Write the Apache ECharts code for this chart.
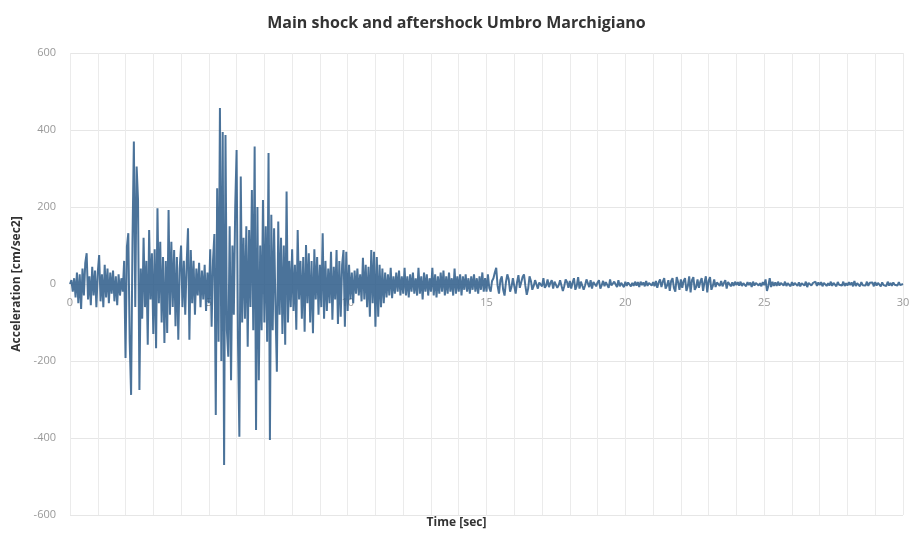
<!DOCTYPE html>
<html>
<head>
<meta charset="utf-8">
<script src="https://cdn.jsdelivr.net/npm/echarts@6/dist/echarts.min.js"></script>
<style>html,body{margin:0;padding:0;background:#fff}#c{width:913px;height:537px}</style>
</head>
<body>
<div id="c"></div>
<script>
// Record 1: 0 – 15 s, sampled every 0.05 s (cm/sec2)
var startA = 0, stepA = 0.05;
var accelA = [
0,10,-20,15,-35,30,-50,25,-65,40,-30,55,80,-40,20,-55,45,-30,35,-60,
30,75,-45,25,-60,50,-35,40,-50,30,-25,35,-45,20,-55,25,-30,15,-20,60,
-192,97,132,-150,-288,110,370,-60,305,218,-275,40,-90,120,-60,60,-158,140,-40,80,
-130,90,-167,197,-50,110,-100,70,-153,60,-127,192,-80,110,-60,88,-110,70,-145,40,
100,-60,60,-80,50,145,-145,88,-50,60,-80,40,-30,55,-60,35,-40,50,-70,30,
-50,90,-111,60,130,-340,249,-150,457,-200,395,-470,387,-120,-189,150,-250,100,-80,200,
348,-150,-397,279,-100,120,-90,150,-163,140,-60,244,-120,357,-379,200,-250,100,-120,218,
-100,150,-150,340,-405,180,-120,145,-60,-228,162,-80,120,-130,100,-158,240,-100,60,-60,
90,-70,50,-119,140,-40,60,-90,70,-124,101,-50,80,-100,60,-128,90,-40,70,-80,
50,-60,132,-90,60,-70,40,-50,84,-93,45,-40,88,-104,60,-85,50,88,-111,84,
-70,50,-40,30,-50,35,-25,40,-30,25,-45,68,-40,50,-60,45,-85,88,-50,84,
-111,70,-85,50,-60,40,-50,30,-35,25,-30,42,-37,20,-25,30,-20,35,-30,20,
-25,42,-30,20,-35,25,-20,30,-25,15,-30,42,-25,20,-40,30,-20,25,-30,15,
-20,42,-30,25,-35,20,-25,30,-20,35,-30,20,-25,30,-20,15,-30,40,-25,20,
-20,25,-30,20,-15,25,-20,15,-25,20,-15,25,-20,15,-25,20,-15,30,-20,15,
-20
];
// Record 2: 15.05 – 30 s, sampled every 0.05 s (cm/sec2)
var startB = 15.05, stepB = 0.05;
var accelB = [
25,-10,-20,8,15,30,42,-5,-25,10,20,-15,-30,5,25,12,-20,-8,15,20,
-25,5,23,-10,-15,18,25,-5,-28,-12,20,8,-15,-5,10,12,-12,4,8,-6,
15,-10,-4,12,-8,3,10,-12,6,8,-10,-3,10,15,-18,-6,12,5,-10,8,
-12,4,15,-15,-5,18,-12,6,10,-15,-4,12,8,-8,10,-12,5,8,-6,4,
10,-12,-3,8,-6,5,8,-10,12,-4,-8,6,5,-8,10,-6,3,5,-8,6,
-5,4,8,-6,3,-5,6,-4,5,-8,6,-3,4,-6,8,-5,3,6,-4,5,
-6,8,-10,4,12,-8,6,15,-12,-4,10,-18,8,15,-10,-20,18,5,-15,12,
-10,8,15,-18,-6,20,-22,10,18,-15,-8,12,-10,6,15,-18,4,20,-22,8,
18,-15,-5,12,-8,4,6,-5,8,-6,3,10,-12,5,8,-6,4,-5,6,-3,
5,-4,6,-5,2,4,-6,5,-3,4,-8,6,-4,3,5,-4,2,-6,5,-3,
12,-18,-5,15,-8,6,-5,4,-5,6,-4,3,5,-4,6,-5,2,4,-6,5,
-4,3,6,-5,4,-6,2,5,-4,6,-8,3,5,-4,2,-3,6,-5,4,-3,
5,-6,3,4,-5,2,-4,6,-5,3,4,-6,5,-2,3,-4,6,-5,2,-4,
5,-3,4,-6,8,-5,2,4,-6,5,-3,2,-4,6,-5,3,-2,4,-6,5,
-4,3,5,-6,4,-3,2,-5,6,-4,3,-5,4,-2,3,-4,5,-3,2,0
];
var xTicks = [0,5,10,15,20,25,30];
var yTicks = [-600,-400,-200,0,200,400,600];

var pts = [];
accelA.forEach(function(v,i){ pts.push([+(startA + i*stepA).toFixed(2), v]); });
accelB.forEach(function(v,i){ pts.push([+(startB + i*stepB).toFixed(2), v]); });

var gridTop = 53, gridBottom = 22, H = 537;
var plotH = H - gridTop - gridBottom;
// shift the x axis (and its labels) up to the zero line of the y axis
var zeroOffset = -plotH * (0 - yTicks[0]) / (yTicks[yTicks.length-1] - yTicks[0]);

var chart = echarts.init(document.getElementById('c'), null, {renderer:'canvas'});
chart.setOption({
  animation:false,
  backgroundColor:'#fff',
  title:{text:'Main shock and aftershock Umbro Marchigiano',left:'center',top:10,
    textStyle:{fontFamily:'Open Sans',fontWeight:'bold',fontSize:16,color:'#333'}},
  grid:{left:70,right:10,top:gridTop,bottom:gridBottom},
  graphic:[{type:'text',left:'center',top:517,
    style:{text:'Time [sec]',font:'bold 12px "Open Sans"',fill:'#333'}}],
  xAxis:{type:'value',min:0,max:30,interval:1,offset:zeroOffset,
    axisLine:{show:true,onZero:false,lineStyle:{color:'#e6e6e6',width:1}},axisTick:{show:false},
    axisLabel:{color:'#999',fontSize:11,fontFamily:'Open Sans',margin:13,
      formatter:function(v){return xTicks.indexOf(v)>=0?String(v):'';}},
    splitLine:{show:true,lineStyle:{color:'#ebebeb',width:1}}},
  yAxis:{type:'value',min:yTicks[0],max:yTicks[yTicks.length-1],interval:200,
    name:'Acceleration [cm/sec2]',nameLocation:'middle',nameGap:46,
    nameTextStyle:{fontFamily:'Open Sans',fontWeight:'bold',fontSize:12,color:'#333'},
    axisLine:{show:false},axisTick:{show:false},
    axisLabel:{color:'#999',fontSize:11,fontFamily:'Open Sans',margin:14},
    splitLine:{show:true,lineStyle:{color:'#e6e6e6',width:1}}},
  series:[{type:'line',data:pts,showSymbol:false,sampling:null,z:3,
    lineStyle:{color:'#2c5a88',width:2,opacity:0.85}}]
});
</script>
</body>
</html>
